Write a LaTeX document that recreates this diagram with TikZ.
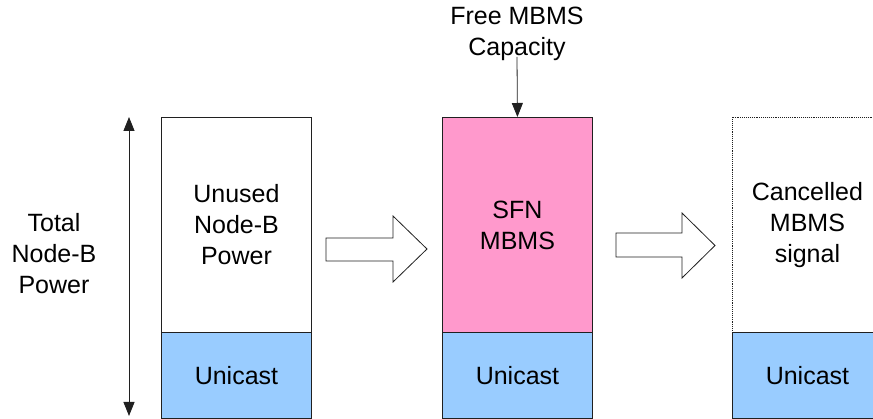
\documentclass[tikz,border=0pt]{standalone}
\usepackage{fontspec}
\setmainfont{Liberation Sans}
\usetikzlibrary{arrows.meta}
\definecolor{mbmspink}{HTML}{FF99CC}
\definecolor{uniblue}{HTML}{99CCFF}
\definecolor{edge}{HTML}{202020}
\begin{document}
\begin{tikzpicture}[x=1pt,y=-1pt,
  lbl/.style={font=\fontsize{25}{31}\selectfont, align=center, inner sep=0pt},
  upper/.style={draw=edge, line width=0.9pt, minimum width=150pt, minimum height=215pt, inner sep=0pt, anchor=north west},
  lower/.style={draw=edge, line width=0.9pt, fill=uniblue, minimum width=150pt, minimum height=86pt, inner sep=0pt, anchor=north west},
  blockarrow/.style={draw=edge, line width=0.8pt, fill=white, line join=miter},
  pointer/.style={draw=edge, line width=0.8pt, -{Triangle[length=14pt,width=11pt]}}]
\useasboundingbox (0,0) rectangle (873,419);
\clip (0,0) rectangle (873,419);

% stacked power columns
\node[upper] (u1) at (161,117) {};
\node[lower] (l1) at (161,332) {};
\node[upper, fill=mbmspink] (u2) at (442,117) {};
\node[lower] (l2) at (442,332) {};
\node[upper, draw=none] (u3) at (732,117) {};
\draw[edge, line width=0.9pt, densely dotted] (u3.south west) -- (u3.north west) -- (u3.north east);
\node[lower] (l3) at (732,332) {};

% labels inside the columns
\node[lbl] (t1) at (u1.center) {Unused\\Node-B\\Power};
\node[lbl] (t2) at (u2.center) {SFN\\MBMS};
\node[lbl] (t3) at ([xshift=0pt]u3.center) {Cancelled\\MBMS\\signal};
\node[lbl] at (l1.center) {Unicast};
\node[lbl] at (l2.center) {Unicast};
\node[lbl] at (l3.center) {Unicast};

% total power indicator
\node[lbl] (total) at (54,254) {Total\\Node-B\\Power};
\coordinate (ptop) at (129,117);
\coordinate (pbot) at (129,416);
\draw[edge, line width=0.8pt, {Triangle[length=14pt,width=11pt]}-{Triangle[length=14pt,width=11pt]}] (ptop) -- (pbot);

% free capacity pointer
\node[lbl] (free) at (517,34) {Free MBMS\\Capacity};
\coordinate (fstart) at (517,57);
\draw[pointer] (fstart) -- (u2.north);

% transition block arrows
\draw[blockarrow] (326,238) -- (393,238) -- (393,216) -- (427,249) -- (393,282) -- (393,261) -- (326,261) -- cycle;
\draw[blockarrow] (616,233) -- (682,233) -- (682,213) -- (715,245.5) -- (682,278) -- (682,257) -- (616,257) -- cycle;
\end{tikzpicture}
\end{document}
